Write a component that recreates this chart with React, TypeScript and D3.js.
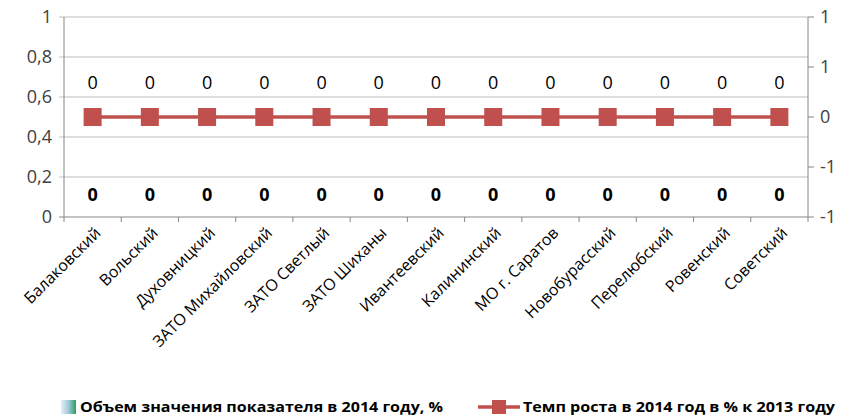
import React from 'react';
import * as d3 from 'd3';

const categories = [
  'Балаковский', 'Вольский', 'Духовницкий', 'ЗАТО Михайловский', 'ЗАТО Светлый',
  'ЗАТО Шиханы', 'Ивантеевский', 'Калининский', 'МО г. Саратов', 'Новобурасский',
  'Перелюбский', 'Ровенский', 'Советский',
];
const volume2014 = [0, 0, 0, 0, 0, 0, 0, 0, 0, 0, 0, 0, 0];
const growth2014 = [0, 0, 0, 0, 0, 0, 0, 0, 0, 0, 0, 0, 0];
const leftTicks = [0, 0.2, 0.4, 0.6, 0.8, 1];
const leftTickLabels = ['0', '0,2', '0,4', '0,6', '0,8', '1'];
const rightTicks = [-1, -0.5, 0, 0.5, 1];
const rightTickLabels = ['-1', '-1', '0', '1', '1'];
const legendLabels = ['Объем значения показателя в 2014 году, %', 'Темп роста в 2014 год в % к 2013 году'];

const W = 850, H = 418;
const margin = { top: 17, right: 42, bottom: 201, left: 64 };
const font = '"Open Sans", sans-serif';
const red = '#c0504d';

export default function App() {
  const innerW = W - margin.left - margin.right;
  const innerH = H - margin.top - margin.bottom;

  const x = d3.scaleBand<string>().domain(categories).range([0, innerW]);
  const yL = d3.scaleLinear().domain([0, 1]).range([innerH, 0]);
  const yR = d3.scaleLinear().domain([-1, 1]).range([innerH, 0]);
  const cx = (c: string) => (x(c) ?? 0) + x.bandwidth() / 2;

  const line = d3.line<number>()
    .x((_, i) => cx(categories[i]))
    .y(d => yR(d));

  return (
    <div style={{ position: 'absolute', left: 0, top: 0 }}>
      <svg width={W} height={H} style={{ display: 'block', background: '#fff' }} fontFamily={font}>
        <defs>
          <linearGradient id="sw" x1="0" x2="1" y1="0" y2="0">
            <stop offset="0" stopColor="#e6eefa" />
            <stop offset="0.5" stopColor="#9fc9d9" />
            <stop offset="1" stopColor="#2e9e5e" />
          </linearGradient>
        </defs>
        <g transform={`translate(${margin.left},${margin.top})`}>
          {/* gridlines */}
          {leftTicks.map(t => (
            <line key={t} x1={-5} x2={innerW} y1={yL(t)} y2={yL(t)} stroke={t === 0 ? '#868686' : '#bfbfbf'} />
          ))}
          <line x1={0} x2={0} y1={0} y2={innerH} stroke="#868686" />
          <line x1={innerW} x2={innerW} y1={0} y2={innerH} stroke="#868686" />
          {/* left labels */}
          {leftTicks.map((t, i) => (
            <text key={t} x={-12} y={yL(t)} dy="0.35em" textAnchor="end" fontSize={18} fill="#404040">{leftTickLabels[i]}</text>
          ))}
          {/* right ticks */}
          {rightTicks.map((t, i) => (
            <g key={t}>
              <line x1={innerW} x2={innerW + 6} y1={yR(t)} y2={yR(t)} stroke="#868686" />
              <text x={innerW + 12} y={yR(t)} dy="0.35em" fontSize={18} fill="#404040">{rightTickLabels[i]}</text>
            </g>
          ))}
          {/* category ticks */}
          {categories.map((c, i) => (
            <line key={i} x1={x(c)} x2={x(c)} y1={innerH} y2={innerH + 5} stroke="#868686" />
          ))}
          <line x1={innerW} x2={innerW} y1={innerH} y2={innerH + 5} stroke="#868686" />
          {categories.map(c => (
            <text key={c} transform={`translate(${cx(c) + 9},${innerH + 17}) rotate(-45)`} textAnchor="end" fontSize={16} fill="#000">{c}</text>
          ))}
          {/* bars (zero) */}
          {volume2014.map((v, i) => (
            <g key={i}>
              <rect x={cx(categories[i]) - 14} width={28} y={yL(v)} height={innerH - yL(v)} fill="url(#sw)" />
              <text x={cx(categories[i])} y={yL(v) - 22} dy="0.35em" textAnchor="middle" fontSize={18} fontWeight="bold" fill="#000">{v}</text>
            </g>
          ))}
          {/* line series */}
          <path d={line(growth2014) ?? ''} fill="none" stroke={red} strokeWidth={3.5} />
          {growth2014.map((v, i) => (
            <g key={i}>
              <rect x={cx(categories[i]) - 9} y={yR(v) - 9} width={18} height={18} fill={red} />
              <text x={cx(categories[i])} y={yR(v) - 34} dy="0.35em" textAnchor="middle" fontSize={18} fill="#000">{v}</text>
            </g>
          ))}
        </g>
        {/* legend */}
        <g transform="translate(0,407)">
          <rect x={61} y={-7} width={15} height={14} fill="url(#sw)" />
          <text x={80} y={0} dy="0.35em" fontSize={15} fontWeight="bold" fill="#000" textLength={363} lengthAdjust="spacingAndGlyphs">{legendLabels[0]}</text>
          <line x1={478} x2={520} y1={0} y2={0} stroke={red} strokeWidth={3.5} />
          <rect x={492} y={-7} width={14} height={14} fill={red} />
          <text x={523} y={0} dy="0.35em" fontSize={15} fontWeight="bold" fill="#000" textLength={312} lengthAdjust="spacingAndGlyphs">{legendLabels[1]}</text>
        </g>
      </svg>
    </div>
  );
}
